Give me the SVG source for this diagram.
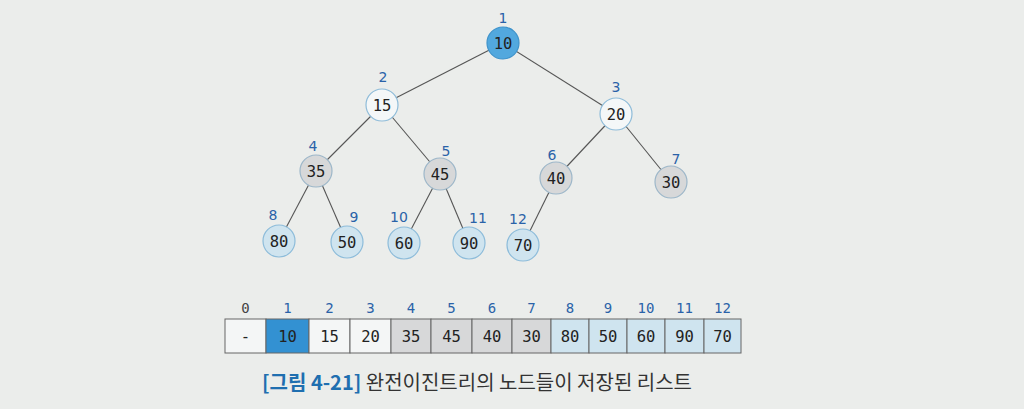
<svg xmlns="http://www.w3.org/2000/svg" width="1024" height="409" viewBox="0 0 1024 409">
<style>
.bg{fill:#ebedeb}
.edge{stroke:#555;stroke-width:1.1;fill:none}
.n circle{stroke-width:1.2}
.root{fill:#52a8de;stroke:#3f93cb}
.white{fill:#f4f7f8;stroke:#8fbcd9}
.grey{fill:#d7d8d9;stroke:#9db7c9}
.lblue{fill:#cfe4ef;stroke:#8dbcda}
.val{font-family:"DejaVu Sans Mono","Liberation Mono",monospace;font-size:15.5px;fill:#222;text-anchor:middle}
.idx{font-family:"DejaVu Sans","Liberation Sans",sans-serif;font-size:14px;fill:#2a62a8;text-anchor:middle}
.aidx{font-family:"DejaVu Sans Mono","Liberation Mono",monospace;font-size:14px;fill:#2a62a8;text-anchor:middle}
.cell{stroke:#666;stroke-width:1}
.cw{fill:#f4f6f6}
.cb{fill:#3391d2}
.cg{fill:#d7d8d9}
.cl{fill:#cfe4ef}
.cap{font-family:"Noto Sans CJK KR","Noto Sans",sans-serif;font-size:20px;fill:#333}
.capb{font-weight:bold;fill:#1f6fb0}
</style>
<rect class="bg" x="0" y="0" width="1024" height="409"/>
<g id="connectors">
<line class="edge" x1="503" y1="43" x2="382" y2="105"/>
<line class="edge" x1="503" y1="43" x2="616" y2="114"/>
<line class="edge" x1="382" y1="105" x2="316" y2="171"/>
<line class="edge" x1="382" y1="105" x2="440" y2="174"/>
<line class="edge" x1="616" y1="114" x2="556" y2="178"/>
<line class="edge" x1="616" y1="114" x2="671" y2="182"/>
<line class="edge" x1="316" y1="171" x2="279" y2="241"/>
<line class="edge" x1="316" y1="171" x2="347" y2="242"/>
<line class="edge" x1="440" y1="174" x2="404" y2="243"/>
<line class="edge" x1="440" y1="174" x2="469" y2="243"/>
<line class="edge" x1="556" y1="178" x2="523" y2="245"/>
</g>
<g id="node1" class="n"><circle class="root" cx="503" cy="43" r="16"/><text class="val" x="503" y="48.5">10</text><text class="idx" x="503" y="23">1</text></g>
<g id="node2" class="n"><circle class="white" cx="382" cy="105" r="16"/><text class="val" x="382" y="110.5">15</text><text class="idx" x="383" y="82">2</text></g>
<g id="node3" class="n"><circle class="white" cx="616" cy="114" r="16"/><text class="val" x="616" y="119.5">20</text><text class="idx" x="616" y="92">3</text></g>
<g id="node4" class="n"><circle class="grey" cx="316" cy="171" r="16"/><text class="val" x="316" y="176.5">35</text><text class="idx" x="313" y="151">4</text></g>
<g id="node5" class="n"><circle class="grey" cx="440" cy="174" r="16"/><text class="val" x="440" y="179.5">45</text><text class="idx" x="446" y="156">5</text></g>
<g id="node6" class="n"><circle class="grey" cx="556" cy="178" r="16"/><text class="val" x="556" y="183.5">40</text><text class="idx" x="552" y="160">6</text></g>
<g id="node7" class="n"><circle class="grey" cx="671" cy="182" r="16"/><text class="val" x="671" y="187.5">30</text><text class="idx" x="676" y="164">7</text></g>
<g id="node8" class="n"><circle class="lblue" cx="279" cy="241" r="16"/><text class="val" x="279" y="246.5">80</text><text class="idx" x="273" y="220">8</text></g>
<g id="node9" class="n"><circle class="lblue" cx="347" cy="242" r="16"/><text class="val" x="347" y="247.5">50</text><text class="idx" x="354" y="222">9</text></g>
<g id="node10" class="n"><circle class="lblue" cx="404" cy="243" r="16"/><text class="val" x="404" y="248.5">60</text><text class="idx" x="399" y="222">10</text></g>
<g id="node11" class="n"><circle class="lblue" cx="469" cy="243" r="16"/><text class="val" x="469" y="248.5">90</text><text class="idx" x="478" y="223">11</text></g>
<g id="node12" class="n"><circle class="lblue" cx="523" cy="245" r="16"/><text class="val" x="523" y="250.5">70</text><text class="idx" x="518" y="224">12</text></g>
<g id="array">
<rect class="cell cw" x="225" y="319" width="41" height="34"/>
<rect class="cell cb" x="266" y="319" width="43" height="34"/>
<rect class="cell cw" x="309" y="319" width="41" height="34"/>
<rect class="cell cw" x="350" y="319" width="41" height="34"/>
<rect class="cell cg" x="391" y="319" width="40" height="34"/>
<rect class="cell cg" x="431" y="319" width="41" height="34"/>
<rect class="cell cg" x="472" y="319" width="40" height="34"/>
<rect class="cell cg" x="512" y="319" width="39" height="34"/>
<rect class="cell cl" x="551" y="319" width="38" height="34"/>
<rect class="cell cl" x="589" y="319" width="38" height="34"/>
<rect class="cell cl" x="627" y="319" width="38" height="34"/>
<rect class="cell cl" x="665" y="319" width="39" height="34"/>
<rect class="cell cl" x="704" y="319" width="37" height="34"/>
<text class="val" x="245.5" y="341.5">-</text>
<text class="val" x="287.5" y="341.5">10</text>
<text class="val" x="329.5" y="341.5">15</text>
<text class="val" x="370.5" y="341.5">20</text>
<text class="val" x="411" y="341.5">35</text>
<text class="val" x="451.5" y="341.5">45</text>
<text class="val" x="492" y="341.5">40</text>
<text class="val" x="531.5" y="341.5">30</text>
<text class="val" x="570" y="341.5">80</text>
<text class="val" x="608" y="341.5">50</text>
<text class="val" x="646" y="341.5">60</text>
<text class="val" x="684.5" y="341.5">90</text>
<text class="val" x="722.5" y="341.5">70</text>
<text class="aidx" x="245.5" y="313" style="fill:#444">0</text>
<text class="aidx" x="287.5" y="313">1</text>
<text class="aidx" x="329.5" y="313">2</text>
<text class="aidx" x="370.5" y="313">3</text>
<text class="aidx" x="411" y="313">4</text>
<text class="aidx" x="451.5" y="313">5</text>
<text class="aidx" x="492" y="313">6</text>
<text class="aidx" x="531.5" y="313">7</text>
<text class="aidx" x="570" y="313">8</text>
<text class="aidx" x="608" y="313">9</text>
<text class="aidx" x="646" y="313">10</text>
<text class="aidx" x="684.5" y="313">11</text>
<text class="aidx" x="722.5" y="313">12</text>
</g>
<text class="cap" x="477" y="390" text-anchor="middle"><tspan class="capb">[그림 4-21]</tspan>  완전이진트리의 노드들이 저장된 리스트</text>
</svg>
